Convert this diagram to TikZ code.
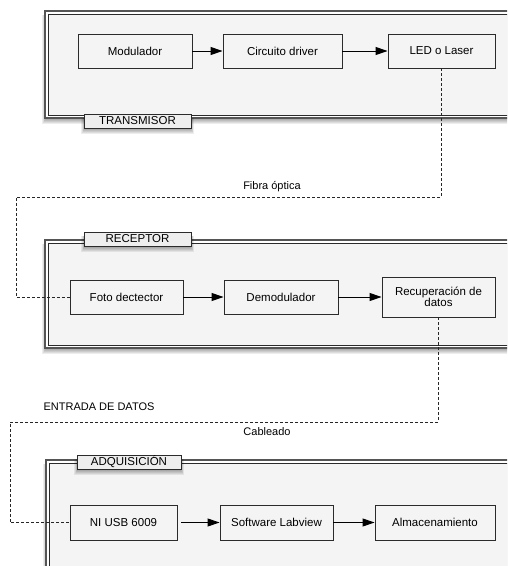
\documentclass[tikz,border=0pt]{standalone}
\usepackage{fontspec}
\setmainfont{Liberation Sans}
\usetikzlibrary{arrows.meta}

\definecolor{panelfill}{HTML}{F4F4F4}
\definecolor{tabfill}{HTML}{EEEEEE}
\definecolor{edge}{HTML}{2B2B2B}

\tikzset{
  block/.style={draw=edge, line width=0.9pt, fill=panelfill, inner sep=2pt,
    align=center, font=\fontsize{11.5}{13}\selectfont},
  tab/.style={draw=edge, line width=0.8pt, fill=tabfill, inner sep=0pt,
    text height=8pt, text depth=2pt, font=\fontsize{11.5}{13}\selectfont},
  flow/.style={draw=black, line width=1pt, -{Triangle[length=12pt,width=8pt]}},
  link/.style={draw=black!85, line width=0.8pt, dash pattern=on 3pt off 2pt},
  caption/.style={inner sep=0pt, font=\fontsize{11}{13}\selectfont},
}

% soft shadow falling below a rectangle given by its corners
\newcommand\softshadow[4]{%
  \foreach \g in {0.5,1.5,2.5,3.5,4.5}{%
    \fill[black, opacity=0.07] (#1-0.6*\g, #2+4) rectangle (#3+0.6*\g, #4+1+\g);}}

% framed panel: double border with light fill
\newcommand\panel[4]{%
  \softshadow{#1}{#2}{#3}{#4}
  \filldraw[draw=edge!80, line width=1.1pt, fill=white] (#1,#2) rectangle (#3,#4);
  \filldraw[draw=edge, line width=0.8pt, fill=panelfill] (#1+3,#2+3) rectangle (#3-3,#4-3);}

\begin{document}
\begin{tikzpicture}[x=1pt, y=-1pt]
  \clip (0,0) rectangle (507,566);
  \fill[white] (0,0) rectangle (507,566);

  % ---- panels ----
  \panel{45}{11}{530}{118}
  \panel{45}{240}{530}{348}
  \panel{46}{460}{530}{600}

  % ---- panel tabs ----
  \softshadow{84}{114}{191}{128}
  \node[tab, minimum width=107pt, minimum height=14pt] (ttx) at (137.5,121) {TRANSMISOR};
  \softshadow{84}{232}{191}{246}
  \node[tab, minimum width=107pt, minimum height=14pt] (trx) at (137.5,239) {RECEPTOR};
  \softshadow{77}{455}{181}{469}
  \node[tab, minimum width=104pt, minimum height=14pt] (tdaq) at (129,462) {ADQUISICIÓN};

  % ---- transmitter ----
  \node[block, minimum width=114pt, minimum height=34pt] (mod) at (135,51) {Modulador};
  \node[block, minimum width=119pt, minimum height=34pt] (drv) at (282.5,51) {Circuito driver};
  \node[block, minimum width=107pt, minimum height=34pt] (led) at (441.5,51) {LED o Laser};
  \draw[flow] (mod) -- (drv);
  \draw[flow] (drv) -- (led);

  % ---- receiver ----
  \node[block, minimum width=113pt, minimum height=34pt] (foto) at (126.5,297) {Foto dectector};
  \node[block, minimum width=114pt, minimum height=34pt] (demod) at (281,297) {Demodulador};
  \node[block, minimum width=113pt, minimum height=40pt] (recup) at (438.5,297) {Recuperación de\\[-2pt]datos};
  \draw[flow] (foto) -- (demod);
  \draw[flow] (demod) -- (recup);

  % ---- acquisition ----
  \node[block, minimum width=107pt, minimum height=35pt] (ni) at (123.5,522.5) {NI USB 6009};
  \node[block, minimum width=113pt, minimum height=35pt] (sw) at (276.5,522.5) {Software Labview};
  \node[block, minimum width=120pt, minimum height=35pt] (alm) at (435,522.5) {Almacenamiento};
  \draw[flow, shorten <=4pt] (ni) -- (sw);
  \draw[flow] (sw) -- (alm);

  % ---- optical fibre link ----
  \coordinate (f1) at (led.south |- 0,197);
  \coordinate (f2) at (16,197);
  \draw[link] (led.south) -- (f1) -- (f2) |- (foto.west);
  \node[caption] (fibra) at (272,187) {Fibra óptica};

  % ---- cable link ----
  \coordinate (c1) at (recup.south |- 0,422);
  \coordinate (c2) at (10,422);
  \draw[link] (recup.south) -- (c1) -- (c2) |- (ni.west);
  \node[caption] (entrada) at (99,407) {ENTRADA DE DATOS};
  \node[caption] (cable) at (267,432) {Cableado};
\end{tikzpicture}
\end{document}
